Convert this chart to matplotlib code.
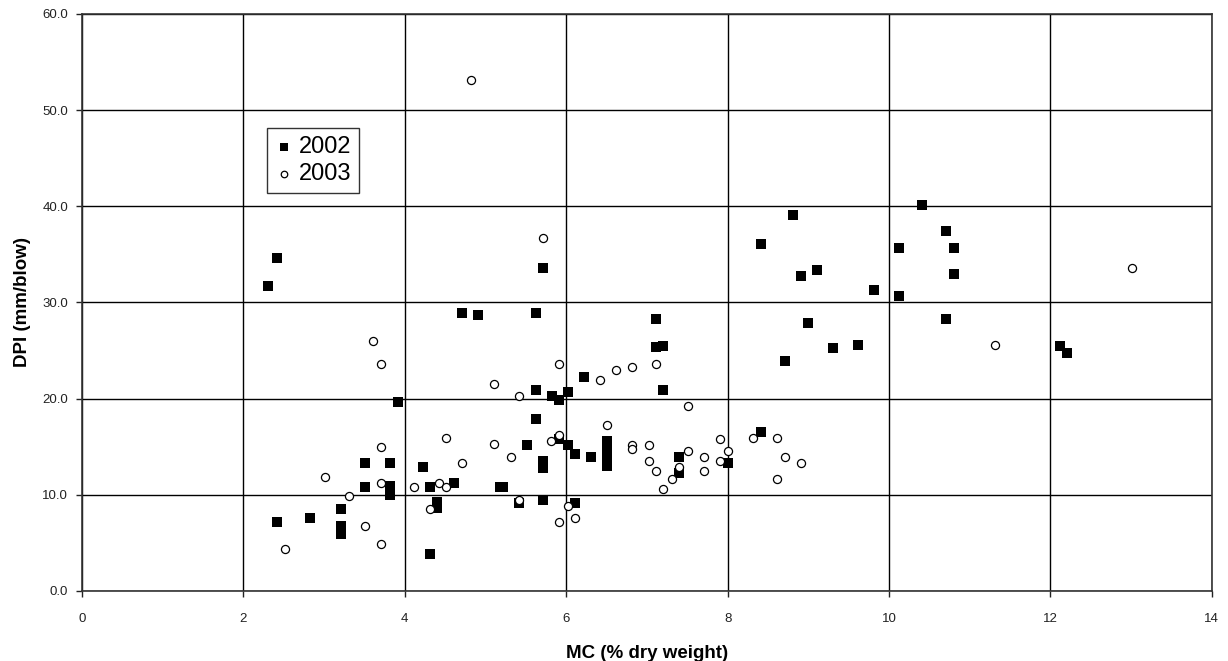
import matplotlib
matplotlib.use("Agg")
import matplotlib.pyplot as plt

plt.rcParams['font.family'] = ['Liberation Sans', 'DejaVu Sans']

# 2002 series (filled squares)
mc_2002 = [2.42, 2.31, 4.71, 4.91, 3.91, 3.51, 3.82, 4.22, 3.51, 3.82, 3.82,
           4.31, 4.61, 5.18, 3.21, 3.21, 3.21, 2.42, 2.82, 4.40, 4.40, 4.31,
           5.71, 5.62, 7.11, 7.11, 7.20, 6.22, 5.62, 5.82, 5.91, 6.02, 7.20,
           5.62, 5.51, 5.91, 6.02, 6.11, 6.31, 6.51, 6.51, 6.51, 6.51,
           7.40, 7.40, 8.01, 5.71, 5.71, 5.22, 5.42, 5.71, 6.11,
           10.41, 8.81, 10.71, 8.41, 10.12, 10.81, 9.11, 8.91, 10.81, 9.81,
           10.12, 10.71, 9.00, 9.61, 9.31, 8.71, 8.41, 12.12, 12.21]
dpi_2002 = [34.6, 31.7, 28.9, 28.7, 19.6, 13.3, 13.3, 12.9, 10.8, 10.9, 10.0,
            10.8, 11.2, 10.8, 8.5, 6.8, 5.9, 7.2, 7.6, 9.2, 8.6, 3.8,
            33.6, 28.9, 28.3, 25.4, 25.5, 22.2, 20.9, 20.3, 19.9, 20.7, 20.9,
            17.9, 15.2, 15.8, 15.2, 14.2, 13.9, 15.6, 14.7, 13.8, 13.0,
            13.9, 12.3, 13.3, 13.5, 12.8, 10.8, 9.1, 9.5, 9.1,
            40.1, 39.1, 37.4, 36.1, 35.7, 35.7, 33.4, 32.7, 33.0, 31.3,
            30.7, 28.3, 27.9, 25.6, 25.3, 23.9, 16.5, 25.5, 24.7]

# 2003 series (open circles)
mc_2003 = [4.82, 5.71, 3.61, 3.70, 5.10, 4.51, 5.10, 3.70, 3.01, 3.70, 4.11,
           4.42, 4.51, 3.31, 2.51, 3.51, 3.70, 4.31, 5.91, 7.11, 6.62, 6.82,
           6.42, 5.42, 7.51, 6.51, 5.91, 5.81, 6.82, 6.82, 7.02, 7.02, 7.11,
           7.31, 7.20, 7.40, 7.51, 7.71, 7.71, 7.91, 7.91, 8.01, 4.71, 5.31,
           5.42, 6.02, 6.11, 5.91, 8.31, 8.61, 8.71, 8.91, 8.61, 13.01, 11.31]
dpi_2003 = [53.1, 36.7, 26.0, 23.6, 21.5, 15.9, 15.3, 15.0, 11.8, 11.2, 10.8,
            11.2, 10.8, 9.9, 4.4, 6.8, 4.9, 8.5, 23.6, 23.6, 23.0, 23.3,
            21.9, 20.3, 19.2, 17.3, 16.2, 15.6, 15.2, 14.8, 15.2, 13.5, 12.5,
            11.6, 10.6, 12.9, 14.6, 13.9, 12.5, 15.8, 13.5, 14.6, 13.3, 13.9,
            9.5, 8.8, 7.6, 7.2, 15.9, 15.9, 13.9, 13.3, 11.6, 33.6, 25.6]

fig = plt.figure(figsize=(12.28, 6.61), dpi=100)
ax = fig.add_axes([0.0668, 0.106, 0.920, 0.873])

ax.scatter(mc_2002, dpi_2002, marker='s', s=60, color='black', linewidths=0,
           label='2002', zorder=3)
ax.scatter(mc_2003, dpi_2003, marker='o', s=34, facecolor='white',
           edgecolor='black', linewidths=0.9, label='2003', zorder=4)

ax.set_xlim(0, 14)
ax.set_ylim(0, 60)
ax.set_xticks(range(0, 15, 2))
ax.set_yticks(range(0, 61, 10))
ax.set_yticklabels([f"{v:.1f}" for v in range(0, 61, 10)])
ax.grid(True, color='black', linewidth=1.0)
ax.set_axisbelow(True)
for sp in ax.spines.values():
    sp.set_color('#333333')
    sp.set_linewidth(1.2)
ax.tick_params(direction='out', length=4, width=1, labelsize=9.5,
               colors='#222222')
ax.tick_params(axis='x', pad=12)
ax.tick_params(axis='y', pad=6)

ax.set_xlabel("MC (% dry weight)", fontsize=13.5, fontweight='bold', labelpad=14)
ax.set_ylabel("DPI (mm/blow)", fontsize=13.5, fontweight='bold', labelpad=8)

leg = ax.legend(loc='upper left', bbox_to_anchor=(0.153, 0.823), fontsize=17,
                frameon=True, fancybox=False, handletextpad=0.2,
                borderpad=0.35, labelspacing=0.2, handlelength=0.8,
                markerscale=0.8)
leg.get_frame().set_edgecolor('black')
leg.get_frame().set_linewidth(1.0)

fig.savefig("out.png", dpi=100)
